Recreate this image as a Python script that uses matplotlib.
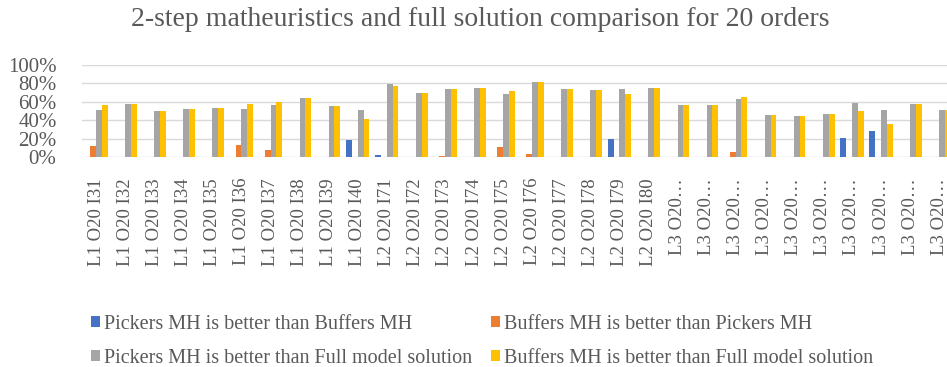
import numpy as np
import matplotlib
matplotlib.use('Agg')
import matplotlib.pyplot as plt

plt.rcParams['font.family'] = ['Liberation Serif', 'DejaVu Serif']

labels = ['L1 O20 I%d' % i for i in range(31, 41)] \
    + ['L2 O20 I%d' % i for i in range(71, 81)] \
    + ['L3 O20\u2026'] * 10

pickers_vs_buffers = [0, 0, 0, 0, 0, 0, 0, 0, 0, 0.18,
                      0.025, 0, 0, 0, 0, 0, 0, 0, 0.196, 0,
                      0, 0, 0, 0, 0, 0, 0.207, 0.28, 0, 0]
buffers_vs_pickers = [0.12, 0, 0, 0, 0, 0.135, 0.076, 0, 0, 0,
                      0, 0, 0.015, 0, 0.11, 0.036, 0, 0, 0, 0,
                      0, 0, 0.05, 0, 0, 0, 0, 0, 0, 0]
pickers_vs_full = [0.51, 0.58, 0.50, 0.52, 0.535, 0.52, 0.57, 0.64, 0.556, 0.51,
                   0.79, 0.70, 0.74, 0.75, 0.68, 0.81, 0.74, 0.727, 0.74, 0.75,
                   0.57, 0.57, 0.63, 0.46, 0.45, 0.47, 0.59, 0.51, 0.58, 0.51]
buffers_vs_full = [0.57, 0.58, 0.50, 0.52, 0.535, 0.58, 0.60, 0.64, 0.556, 0.41,
                   0.77, 0.70, 0.74, 0.75, 0.716, 0.81, 0.74, 0.727, 0.69, 0.75,
                   0.57, 0.57, 0.655, 0.46, 0.45, 0.47, 0.50, 0.36, 0.58, 0.51]

series = [
    (pickers_vs_buffers, '#4472C4', 'Pickers MH is better than Buffers MH'),
    (buffers_vs_pickers, '#ED7D31', 'Buffers MH is better than Pickers MH'),
    (pickers_vs_full, '#A5A5A5', 'Pickers MH is better than Full model solution'),
    (buffers_vs_full, '#FFC000', 'Buffers MH is better than Full model solution'),
]

txt = '#595959'
fig = plt.figure(figsize=(9.47, 3.67), dpi=100)
# axes runs past the right edge, the last group is cut off like in the original
ax = fig.add_axes([0.0861, 0.572, 0.921, 0.251])

x = np.arange(len(labels))
w = 0.2
bars = []
for i, (vals, col, name) in enumerate(series):
    b = ax.bar(x + (i - 1.5) * w, vals, w, color=col, label=name, zorder=3)
    bars.append(b)

ax.set_xlim(-0.5, len(labels) - 0.5)
ax.set_ylim(0, 1)
ax.set_yticks(np.arange(0, 1.01, 0.2))
ax.set_yticklabels(['%d%%' % v for v in range(0, 101, 20)])
ax.set_xticks(x)
ax.set_xticklabels(labels, rotation=90)
ax.tick_params(axis='both', length=0, labelcolor=txt)
ax.tick_params(axis='x', pad=15, labelsize=13.5)
ax.tick_params(axis='y', pad=18, labelsize=15)
ax.grid(axis='y', color='#D9D9D9', lw=1, zorder=0)
for s in ax.spines.values():
    s.set_visible(False)

fig.suptitle('2-step matheuristics and full solution comparison for 20 orders',
             fontsize=20, color=txt, x=0.507, y=0.98)

# rows: blue/orange, grey/yellow
order = [0, 2, 1, 3]
fig.legend([bars[i] for i in order], [series[i][2] for i in order],
           loc='upper left', bbox_to_anchor=(0.088, 0.165), ncol=2,
           frameon=False, fontsize=14.5, labelcolor=txt,
           handlelength=0.45, handleheight=0.45, handletextpad=0.2,
           columnspacing=0.9, labelspacing=0.75, borderaxespad=0)

fig.savefig('out.png', dpi=100)
